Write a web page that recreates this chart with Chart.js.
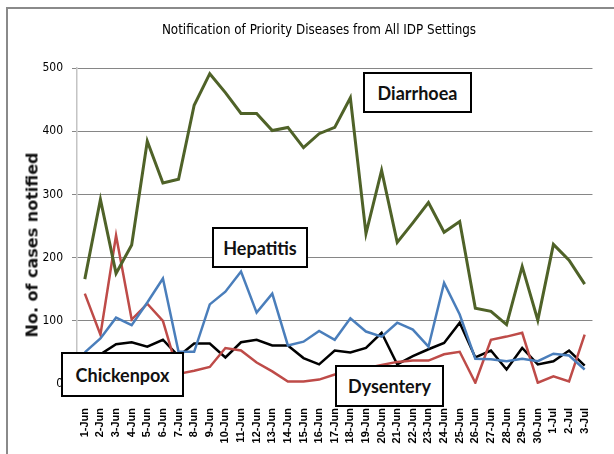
<!DOCTYPE html>
<html>
<head>
<meta charset="utf-8">
<script src="https://cdn.jsdelivr.net/npm/chart.js@4/dist/chart.umd.min.js"></script>
<style>
    body { margin: 0; background: #fff; }
    #wrap { position: relative; width: 614px; height: 454px; overflow: hidden; }
    #frame { position: absolute; left: 6px; top: 7px; width: 700px; height: 600px; border-top: 2px solid #8a8a8a; border-left: 2px solid #8a8a8a; }
    #chart { position: absolute; left: 0; top: 0; }
    #title { position: absolute; left: 0; width: 638px; top: 22px; text-align: center; font: 13.3px 'Liberation Sans Narrow', 'DejaVu Sans Condensed', sans-serif; color: #000; }
    #y-title { position: absolute; left: 32px; top: 245px; transform: translate(-50%, -50%) rotate(-90deg); white-space: nowrap; font: bold 16px 'DejaVu Sans', sans-serif; color: #111; }
    .tag { position: absolute; box-sizing: border-box; background: #fff; border: 2px solid #000; display: flex; align-items: center; justify-content: center; font: bold 18px Lato, 'Liberation Sans', sans-serif; color: #111; }
</style>
</head>
<body>
<div id="wrap">
    <div id="frame"></div>
    <canvas id="chart" width="614" height="454"></canvas>
    <div id="title">Notification of Priority Diseases from All IDP Settings</div>
    <div id="y-title">No. of cases notified</div>
    <div class="tag" style="left:363px; top:72px; width:109px; height:41px;">Diarrhoea</div>
    <div class="tag" style="left:212px; top:227px; width:96px; height:41px;">Hepatitis</div>
    <div class="tag" style="left:61px; top:352px; width:123px; height:45px;">Chickenpox</div>
    <div class="tag" style="left:335px; top:365px; width:109px; height:42px;">Dysentery</div>
</div>
<script>
// dates along the x axis
const days = [
    '1-Jun', '2-Jun', '3-Jun', '4-Jun', '5-Jun', '6-Jun', '7-Jun', '8-Jun', '9-Jun', '10-Jun',
    '11-Jun', '12-Jun', '13-Jun', '14-Jun', '15-Jun', '16-Jun', '17-Jun', '18-Jun', '19-Jun', '20-Jun',
    '21-Jun', '22-Jun', '23-Jun', '24-Jun', '25-Jun', '26-Jun', '27-Jun', '28-Jun', '29-Jun', '30-Jun',
    '1-Jul', '2-Jul', '3-Jul'
];

// cases per day
const diarrhoea = [166, 292, 175, 220, 384, 318, 324, 441, 491, 461, 428, 428, 401, 406, 374, 396,
    406, 453, 238, 338, 224, 255, 287, 240, 257, 120, 115, 94, 186, 101, 221, 196, 158];
const hepatitis = [50, 72, 105, 93, 129, 167, 51, 51, 126, 146, 178, 113, 143, 61, 67, 84,
    70, 104, 83, 75, 97, 86, 59, 160, 110, 40, 39, 36, 40, 36, 48, 45, 23];
const dysentery = [143, 78, 235, 102, 127, 100, 16, 21, 27, 57, 53, 34, 20, 4, 4, 7,
    15, 20, 25, 30, 35, 37, 37, 47, 51, 2, 70, 75, 81, 2, 12, 4, 78];
const chickenpox = [40, 47, 63, 66, 59, 70, 44, 64, 64, 42, 66, 70, 61, 61, 41, 31,
    53, 50, 57, 81, 31, 44, 55, 65, 97, 42, 53, 23, 57, 31, 36, 53, 29];

const yTicks = [0, 100, 200, 300, 400, 500];

function makeLine(label, data, color, width) {
    return {
        label: label,
        data: data,
        borderColor: color,
        backgroundColor: color,
        borderWidth: width,
        pointRadius: 0,
        tension: 0,
        fill: false
    };
}

new Chart(document.getElementById('chart'), {
    type: 'line',
    data: {
        labels: days,
        datasets: [
            makeLine('Diarrhoea', diarrhoea, '#4f6228', 3),
            makeLine('Hepatitis', hepatitis, '#4a7ebb', 2.5),
            makeLine('Dysentery', dysentery, '#be4b48', 2.5),
            makeLine('Chickenpox', chickenpox, '#000000', 2.5)
        ]
    },
    options: {
        responsive: false,
        animation: false,
        devicePixelRatio: 1,
        layout: { padding: { left: 0, right: 9, top: 68, bottom: 0 } },
        plugins: {
            legend: { display: false },
            tooltip: { enabled: false }
        },
        scales: {
            x: {
                offset: true,
                grid: { display: false },
                border: { display: false },
                ticks: {
                    autoSkip: false,
                    minRotation: 90,
                    maxRotation: 90,
                    padding: 16,
                    color: '#000',
                    font: { family: 'Liberation Sans', size: 11, weight: 'bold' }
                },
                afterFit: scale => { scale.height = 70; }
            },
            y: {
                min: 0,
                max: 500,
                afterBuildTicks: scale => { scale.ticks = yTicks.map(v => ({ value: v })); },
                grid: {
                    color: ctx => ctx.tick && ctx.tick.value === 0 ? 'rgba(0,0,0,0)' : '#868686',
                    lineWidth: 1,
                    tickLength: 5
                },
                border: { color: '#c4c4c4', width: 1.5 },
                ticks: {
                    padding: 9,
                    color: '#000',
                    font: { family: "'Liberation Sans Narrow', 'DejaVu Sans Condensed'", size: 12 }
                },
                afterFit: scale => { scale.width = 77; }
            }
        }
    }
});
</script>
</body>
</html>
